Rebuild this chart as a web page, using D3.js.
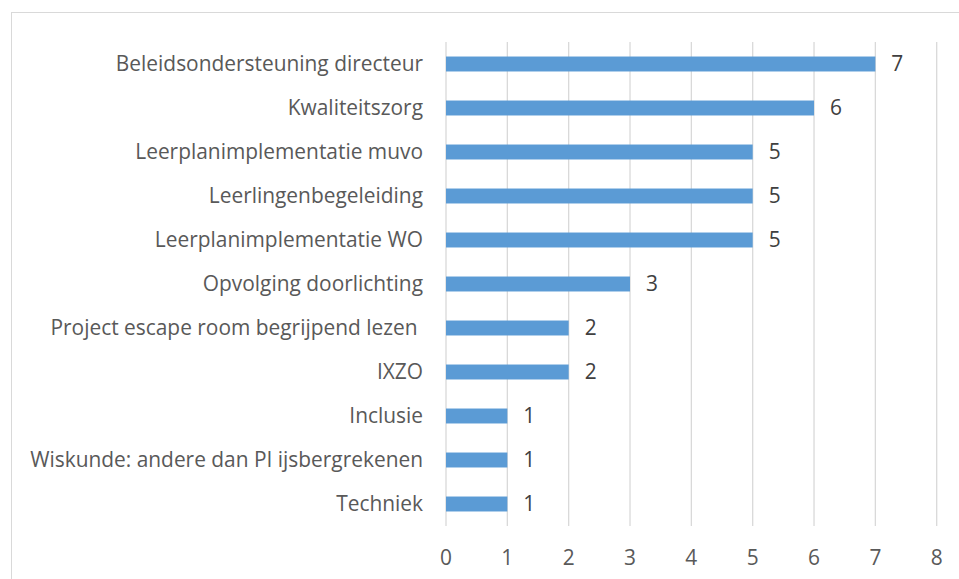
<!DOCTYPE html>
<html>
<head>
<meta charset="utf-8">
<style>
  body { margin: 0; background: #fff; }
  svg { display: block; font-family: 'Open Sans', 'Noto Sans', sans-serif; }
</style>
</head>
<body>
<svg width="959" height="579"></svg>
<script src="https://d3js.org/d3.v7.min.js"></script>
<script>
  let categories = [
    "Beleidsondersteuning directeur",
    "Kwaliteitszorg",
    "Leerplanimplementatie muvo",
    "Leerlingenbegeleiding",
    "Leerplanimplementatie WO",
    "Opvolging doorlichting",
    "Project escape room begrijpend lezen ",
    "IXZO",
    "Inclusie",
    "Wiskunde: andere dan PI ijsbergrekenen",
    "Techniek"
  ];
  let values = [7, 6, 5, 5, 5, 3, 2, 2, 1, 1, 1];
  let ticks = [0, 1, 2, 3, 4, 5, 6, 7, 8];

  let svg = d3.select("svg");
  let margin = {top: 42, left: 446};
  let plotRight = 936.7;
  let plotBottom = 526;
  let fontSize = 20.9;

  // chart area border
  svg.append("rect")
    .attr("x", 11.5).attr("y", 12.5)
    .attr("width", 960).attr("height", 600)
    .attr("fill", "none")
    .attr("stroke", "#d9d9d9")
    .attr("stroke-width", 1);

  let x = d3.scaleLinear().domain([0, 8]).range([margin.left, plotRight]);
  let y = d3.scaleBand().domain(categories).range([margin.top, plotBottom]).paddingInner(0.66).paddingOuter(0.33);

  // gridlines
  svg.append("g")
    .selectAll("line")
    .data(ticks)
    .join("line")
    .attr("x1", d => x(d)).attr("x2", d => x(d))
    .attr("y1", margin.top).attr("y2", plotBottom)
    .attr("stroke", "#d9d9d9")
    .attr("stroke-width", 1.3);

  // bars
  svg.append("g")
    .selectAll("rect")
    .data(values)
    .join("rect")
    .attr("x", x(0))
    .attr("y", (d, i) => y(categories[i]))
    .attr("width", d => x(d) - x(0))
    .attr("height", y.bandwidth())
    .attr("fill", "#5b9bd5");

  // value labels
  svg.append("g")
    .selectAll("text")
    .data(values)
    .join("text")
    .attr("x", d => x(d) + 16)
    .attr("y", (d, i) => y(categories[i]) + y.bandwidth() / 2)
    .attr("dy", "0.35em")
    .attr("font-size", fontSize)
    .attr("fill", "#404040")
    .text(d => d);

  // category labels
  svg.append("g")
    .selectAll("text")
    .data(categories)
    .join("text")
    .attr("x", 423)
    .attr("y", d => y(d) + y.bandwidth() / 2)
    .attr("dy", "0.35em")
    .attr("text-anchor", "end")
    .attr("font-size", fontSize)
    .attr("fill", "#595959")
    .attr("xml:space", "preserve")
    .text(d => d);

  // x tick labels
  svg.append("g")
    .selectAll("text")
    .data(ticks)
    .join("text")
    .attr("x", d => x(d))
    .attr("y", 565)
    .attr("text-anchor", "middle")
    .attr("font-size", fontSize)
    .attr("fill", "#595959")
    .text(d => d);
</script>
</body>
</html>
